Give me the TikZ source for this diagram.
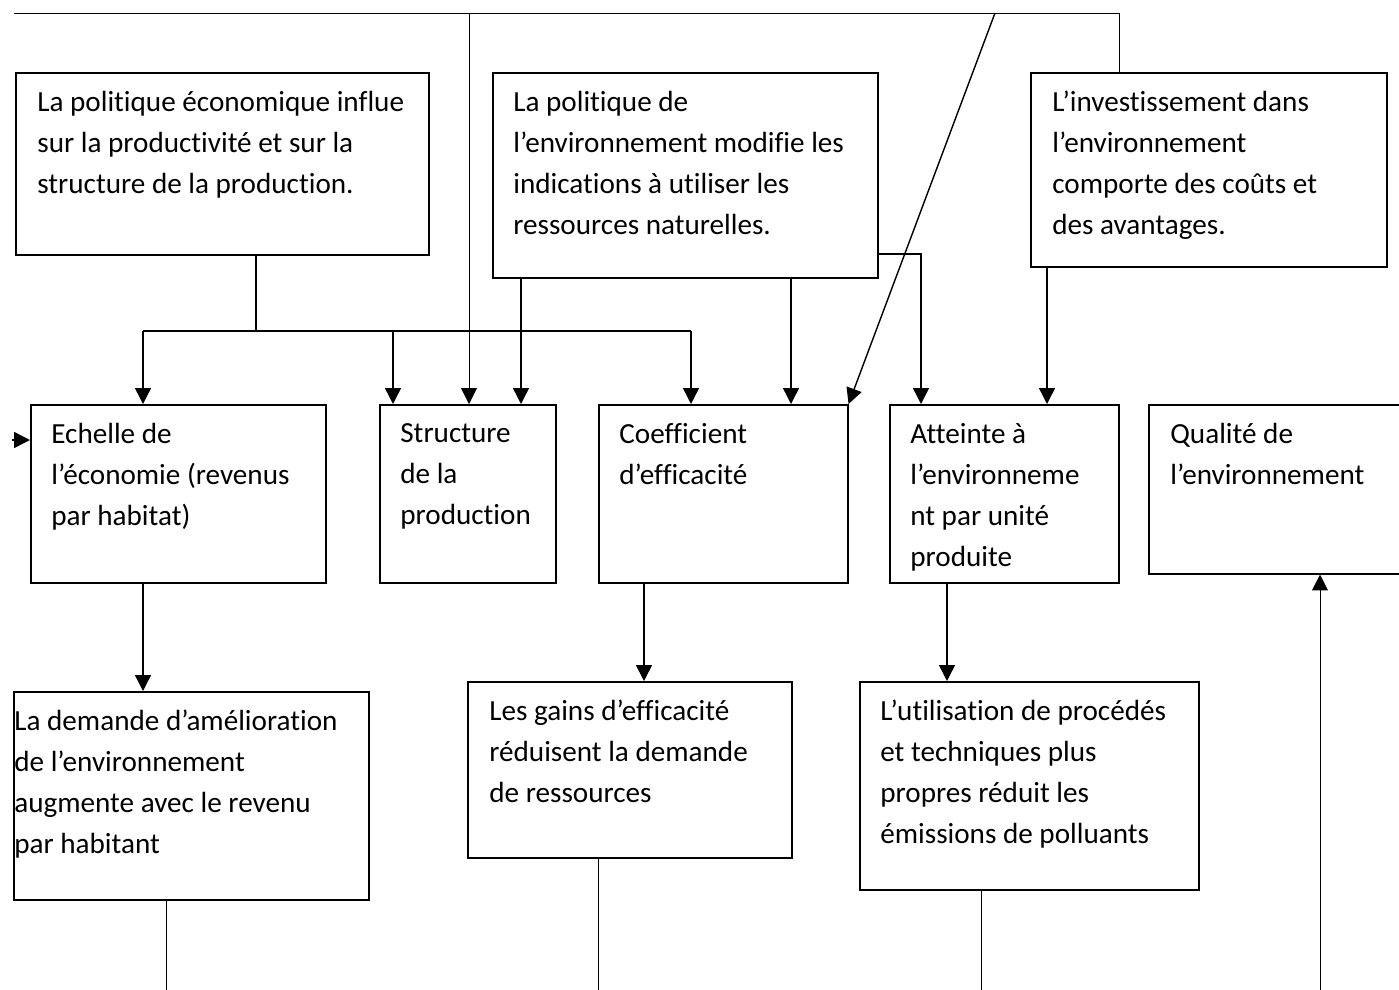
\documentclass[tikz,border=0pt]{standalone}
\usepackage{fontspec}
\setmainfont{Carlito}[Ligatures=NoCommon]
\usetikzlibrary{arrows.meta,positioning}

\tikzset{
  cadre/.style={draw, line width=0.9pt, anchor=north west, inner sep=0pt},
  texte/.style={anchor=north west, inner sep=0pt, align=left,
    font=\fontsize{16.6}{23.3}\selectfont, execute at begin node=\strut},
  fleche/.style={line width=0.8pt, -{Triangle[length=9pt,width=9pt]}},
  trait/.style={line width=0.8pt},
  fin/.style={line width=0.5pt}
}

\begin{document}
\begin{tikzpicture}[x=0.02cm, y=-0.02cm]
    \useasboundingbox (0,0) rectangle (1399,990);
    % Politiques (haut)
    \node [cadre, minimum width=8.26cm, minimum height=3.64cm] (eco) at (15,72) {};
    \node [texte] (teco) at ([shift={(22,19)}]eco.north west) {La politique économique influe\\sur la productivité et sur la\\structure de la production.};
    \node [cadre, minimum width=7.70cm, minimum height=4.10cm] (env) at (492,72) {};
    \node [texte] (tenv) at ([shift={(21,19)}]env.north west) {La politique de\\l’environnement modifie les\\indications à utiliser les\\ressources naturelles.};
    \node [cadre, minimum width=7.12cm, minimum height=3.88cm] (inv) at (1030,72) {};
    \node [texte] (tinv) at ([shift={(22,19)}]inv.north west) {L’investissement dans\\l’environnement\\comporte des coûts et\\des avantages.};
    % Effets (milieu)
    \node [cadre, minimum width=5.90cm, minimum height=3.56cm] (ech) at (30,404) {};
    \node [texte] (tech) at ([shift={(21,19)}]ech.north west) {Echelle de\\l’économie (revenus\\par habitat)};
    \node [cadre, minimum width=3.52cm, minimum height=3.56cm] (str) at (379,404) {};
    \node [texte] (tstr) at ([shift={(21,19)}]str.north west) {Structure\\de la\\production};
    \node [cadre, minimum width=4.98cm, minimum height=3.56cm] (coef) at (598,404) {};
    \node [texte] (tcoef) at ([shift={(21,19)}]coef.north west) {Coefficient\\d’efficacité};
    \node [cadre, minimum width=4.58cm, minimum height=3.56cm] (att) at (889,404) {};
    \node [texte] (tatt) at ([shift={(21,19)}]att.north west) {Atteinte à\\l’environneme\\nt par unité\\produite};
    \node [cadre, minimum width=5.14cm, minimum height=3.38cm] (qual) at (1148,404) {};
    \node [texte] (tqual) at ([shift={(22,19)}]qual.north west) {Qualité de\\l’environnement};
    % Consequences (bas)
    \node [cadre, minimum width=7.10cm, minimum height=4.16cm] (dem) at (13,691) {};
    \node [texte] (tdem) at ([shift={(1,19)}]dem.north west) {La demande d’amélioration\\de l’environnement\\augmente avec le revenu\\par habitant};
    \node [cadre, minimum width=6.48cm, minimum height=3.52cm] (gain) at (467,681) {};
    \node [texte] (tgain) at ([shift={(22,19)}]gain.north west) {Les gains d’efficacité\\réduisent la demande\\de ressources};
    \node [cadre, minimum width=6.78cm, minimum height=4.16cm] (util) at (859,681) {};
    \node [texte] (tutil) at ([shift={(21,19)}]util.north west) {L’utilisation de procédés\\et techniques plus\\propres réduit les\\émissions de polluants};

    % Points de passage
    \coordinate (j1) at (256,331);
    \coordinate (h1) at (143,331);
    \coordinate (h3) at (393,331);
    \coordinate (h2) at (691,331);
    \coordinate (x521) at (521,0);
    \coordinate (x791) at (791,0);
    \coordinate (c921) at (921,254);
    \coordinate (x1047) at (1047,0);
    \coordinate (x644) at (644,0);
    \coordinate (x947) at (947,0);
    \coordinate (haut1) at (14,13);
    \coordinate (haut2) at (1119,13);
    \coordinate (haut3) at (469,13);
    \coordinate (haut4) at (995,13);
    \coordinate (gauche) at (12,440);
    \coordinate (bas1) at (166,990);
    \coordinate (bas2) at (598,990);
    \coordinate (bas3) at (981,990);
    \coordinate (bas4) at (1320,990);

    % Politique economique
    \draw [trait] (eco.south -| j1) -- (j1);
    \draw [trait] (h1) -- (h2);
    \draw [fleche] (h1) -- (ech.north -| h1);
    \draw [fleche] (h3) -- (str.north -| h3);
    \draw [fleche] (h2) -- (coef.north -| h2);
    % Politique de l'environnement
    \draw [fleche] (env.south -| x521) -- (str.north -| x521);
    \draw [fleche] (env.south -| x791) -- (coef.north -| x791);
    \draw [fleche] (env.east |- c921) -- (c921) -- (att.north -| c921);
    % Investissement
    \draw [fleche] (inv.south -| x1047) -- (att.north -| x1047);
    % Retours par le haut
    \draw [fin] (haut1) -- (haut2) -- (inv.north -| haut2);
    \draw [fleche, fin] (haut3) -- (str.north -| haut3);
    \draw [fleche] (haut4) -- (coef.north east);
    \draw [fleche] (gauche) -- (ech.west |- gauche);
    % Effets vers consequences
    \draw [fleche] (ech.south -| h1) -- (dem.north -| h1);
    \draw [fleche] (coef.south -| x644) -- (gain.north -| x644);
    \draw [fleche] (att.south -| x947) -- (util.north -| x947);
    % Retours par le bas
    \draw [fin] (dem.south -| bas1) -- (bas1);
    \draw [fin] (gain.south -| bas2) -- (bas2);
    \draw [fin] (util.south -| bas3) -- (bas3);
    \draw [fleche, fin] (bas4) -- (qual.south -| bas4);
\end{tikzpicture}
\end{document}
